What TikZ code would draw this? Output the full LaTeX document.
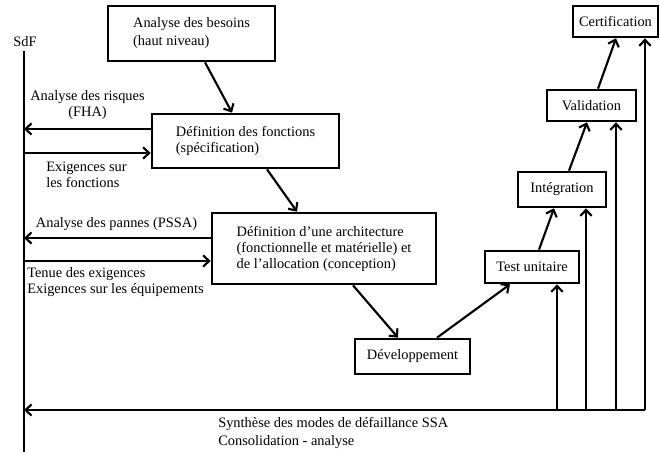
\documentclass[tikz,border=0pt]{standalone}
\usepackage{fontspec}
\setmainfont{Liberation Serif}
\usetikzlibrary{arrows.meta,calc}
\begin{document}
\begin{tikzpicture}[x=0.75pt,y=-0.75pt,
  font=\fontsize{10.8}{12}\selectfont,
  stage/.style={draw,line width=2pt,rectangle,inner sep=0pt,align=left},
  arr/.style={line width=1.6pt,-{Straight Barb[length=4.5pt,width=8.5pt,line width=1.6pt]}},
  lbl/.style={inner sep=0pt}]
\useasboundingbox (0,0) rectangle (659,452);

% SdF timeline
\node[lbl] (sdf) at (25,42) {SdF};
\coordinate (sTop) at (24,51);
\coordinate (sBot) at (24,452);
\draw[line width=1.6pt] (sTop) -- (sBot);

% stages of the development cycle
\node[stage,minimum width=125.25pt,minimum height=41.25pt,
      font=\fontsize{10.8}{13.5}\selectfont] (b1) at (191.5,33.5)
  {Analyse des besoins\\(haut niveau)};
\node[stage,minimum width=140.25pt,minimum height=40.5pt] (b2) at (245.5,141)
  {Définition des fonctions\\(spécification)};
\node[stage,minimum width=168pt,minimum height=53.25pt] (b3) at (324,248.5)
  {Définition d’une architecture\\(fonctionnelle et matérielle) et\\de l’allocation (conception)};
\node[stage,minimum width=86.25pt,minimum height=26.25pt] (dev) at (412.5,356.5) {Développement};
\node[stage,minimum width=70.5pt,minimum height=24pt] (test) at (532,267) {Test unitaire};
\node[stage,minimum width=66pt,minimum height=26.25pt] (integ) at (562,189.5) {Intégration};
\node[stage,minimum width=66.75pt,minimum height=23.25pt] (valid) at (591.5,105.5) {Validation};
\node[stage,minimum width=63.75pt,minimum height=23.25pt] (cert) at (615.5,21.5) {Certification};

% flow between stages
\draw[arr] ([xshift=10.125pt]b1.south) -- ([xshift=-10.125pt]b2.north);
\draw[arr] ([xshift=16.125pt]b2.south) -- ([xshift=-20.25pt]b3.north);
\draw[arr] ([xshift=21.75pt]b3.south) -- ([xshift=-10.875pt]dev.north);
\draw[arr] ([xshift=18.375pt]dev.north) -- ([xshift=-16.5pt]test.south);
\draw[arr] ([xshift=5.25pt]test.north) -- ([xshift=-6pt]integ.south);
\draw[arr] ([xshift=5.25pt]integ.north) -- ([xshift=-3.375pt]valid.south);
\draw[arr] ([xshift=4.875pt]valid.north) -- ([xshift=0.375pt]cert.south);

% exchanges with SdF
\draw[arr] ([yshift=9pt]b2.west) -- ([yshift=9pt]b2.west -| sTop);
\draw[arr] ([yshift=-9pt]b2.west -| sTop) -- ([yshift=-9pt]b2.west);
\draw[arr] ([yshift=7.875pt]b3.west) -- ([yshift=7.875pt]b3.west -| sTop);
\draw[arr] ([yshift=-9.375pt]b3.west -| sTop) -- ([yshift=-9.375pt]b3.west);

\node[lbl,align=center] (fha) at (87.5,105.5) {Analyse des risques\\(FHA)};
\node[lbl,align=left,anchor=west] (exf) at (46,174.5) {Exigences sur\\les fonctions};
\node[lbl] (pssa) at (116.5,224) {Analyse des pannes (PSSA)};
\node[lbl,align=left,anchor=west] (exe) at (27,282) {Tenue des exigences\\Exigences sur les équipements};

% SSA feedback bus
\coordinate (busR) at (645,410);
\draw[arr] (busR) -- (busR -| sTop);
\draw[arr] ([xshift=18.75pt]test.south |- busR) -- ([xshift=18.75pt]test.south);
\draw[arr] ([xshift=18pt]integ.south |- busR) -- ([xshift=18pt]integ.south);
\draw[arr] ([xshift=18.375pt]valid.south |- busR) -- ([xshift=18.375pt]valid.south);
\draw[arr] (busR) -- ([xshift=22.125pt]cert.south);

\node[lbl,align=left,anchor=west,font=\fontsize{10.8}{13.5}\selectfont] (ssa) at (218,433)
  {Synthèse des modes de défaillance SSA\\Consolidation - analyse};
\end{tikzpicture}
\end{document}
